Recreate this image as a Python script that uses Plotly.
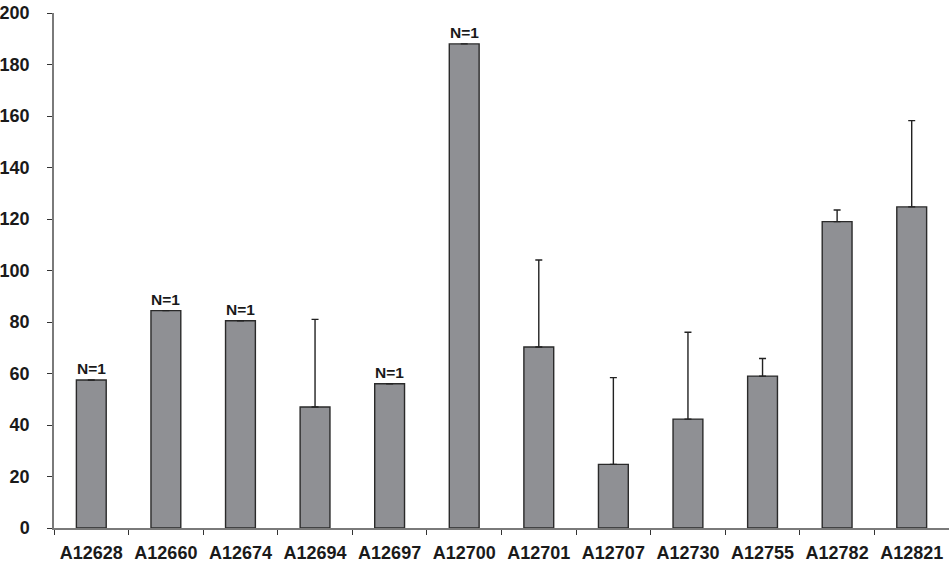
import plotly.graph_objects as go

categories = ["A12628", "A12660", "A12674", "A12694", "A12697", "A12700",
              "A12701", "A12707", "A12730", "A12755", "A12782", "A12821"]
means = [57.5, 84.4, 80.5, 47.0, 56.0, 188.0, 70.3, 24.7, 42.3, 59.0, 119.0, 124.7]
err_plus = [0, 0, 0, 34.0, 0, 0, 33.8, 33.7, 33.7, 6.8, 4.5, 33.5]
n_labels = ["N=1", "N=1", "N=1", "", "N=1", "N=1", "", "", "", "", "", ""]
y_ticks = [0, 20, 40, 60, 80, 100, 120, 140, 160, 180, 200]

FONT = "Liberation Sans, Arial, Helvetica, sans-serif"

fig = go.Figure()
fig.add_trace(go.Bar(
    x=categories, y=means, width=0.4,
    marker=dict(color="#8f9094", line=dict(color="#2a2a2a", width=1.4)),
    error_y=dict(type="data", symmetric=False, array=err_plus,
                 arrayminus=[0] * len(means), color="#222222",
                 thickness=1.4, width=3.5),
))

for c, m, e, t in zip(categories, means, err_plus, n_labels):
    if t:
        fig.add_annotation(x=c, y=m + e, text="<b>" + t + "</b>", showarrow=False,
                           yanchor="bottom", yshift=1,
                           font=dict(family=FONT, size=15.5, color="#1a1a1a"))

fig.update_layout(
    width=949, height=568,
    margin=dict(l=54, r=0, t=13, b=40, autoexpand=False),
    plot_bgcolor="white", paper_bgcolor="white",
    showlegend=False, bargap=0.6,
)
fig.update_xaxes(
    type="category", range=[-0.5, 11.5], tickson="boundaries",
    showline=True, linecolor="#7a7a7a", linewidth=1.5,
    ticks="outside", ticklen=5, tickcolor="#333333", tickwidth=1.3,
    tickfont=dict(family=FONT, size=18, color="#1a1a1a", weight="bold"),
    showgrid=False, zeroline=False, ticklabelstandoff=8, automargin=False,
)
fig.update_yaxes(
    range=[0, 200], tickvals=y_ticks, ticktext=[str(v) for v in y_ticks],
    showline=True, linecolor="#7a7a7a", linewidth=1.5,
    ticks="outside", ticklen=5, tickcolor="#333333", tickwidth=1.3,
    tickfont=dict(family=FONT, size=18, color="#1a1a1a", weight="bold"),
    showgrid=False, zeroline=False, ticklabelstandoff=14, automargin=False,
)

fig.write_html("out.html", config={"displayModeBar": False},
               post_script="document.body.style.margin='0';document.body.style.overflow='hidden';")
